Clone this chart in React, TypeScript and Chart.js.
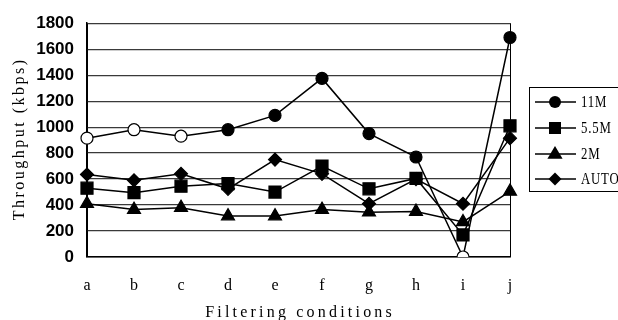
import React, { useEffect, useRef } from 'react';
import { Chart, registerables } from 'chart.js';

Chart.register(...registerables);

const categories = ['a', 'b', 'c', 'd', 'e', 'f', 'g', 'h', 'i', 'j'];
const series11M = [915, 980, 930, 980, 1090, 1375, 950, 770, 0, 1690];
const hollow11M = [true, true, true, false, false, false, false, false, true, false];
const series55M = [530, 495, 545, 565, 500, 700, 525, 605, 170, 1010];
const series2M = [410, 365, 380, 315, 315, 365, 345, 350, 270, 505];
const seriesAUTO = [635, 590, 640, 525, 750, 640, 410, 600, 410, 915];
const seriesNames = ['11M', '5.5M', '2M', 'AUTO'];
const yTickValues = [0, 200, 400, 600, 800, 1000, 1200, 1400, 1600, 1800];
const xTitle = 'Filtering conditions';
const yTitle = 'Throughput (kbps)';

const SERIF = '"Liberation Serif", "DejaVu Serif", serif';
const SANS = '"Liberation Sans", "DejaVu Sans", sans-serif';

function drawMarker(ctx: CanvasRenderingContext2D, style: string, x: number, y: number, r: number) {
  ctx.beginPath();
  if (style === 'circle') {
    ctx.arc(x, y, r, 0, Math.PI * 2);
  } else if (style === 'rect') {
    const s = Math.SQRT1_2 * r;
    ctx.rect(x - s, y - s, 2 * s, 2 * s);
  } else if (style === 'triangle') {
    ctx.moveTo(x, y - r);
    ctx.lineTo(x + r * 0.95, y + r * 0.6);
    ctx.lineTo(x - r * 0.95, y + r * 0.6);
    ctx.closePath();
  } else if (style === 'rectRot') {
    ctx.moveTo(x, y - r);
    ctx.lineTo(x + r, y);
    ctx.lineTo(x, y + r);
    ctx.lineTo(x - r, y);
    ctx.closePath();
  }
  ctx.fillStyle = '#000';
  ctx.fill();
}

const decorPlugin = {
  id: 'decor',
  afterDraw(chart: any) {
    const ctx: any = chart.ctx;
    const area = chart.chartArea;
    ctx.save();
    ctx.fillStyle = '#000';
    ctx.font = `16px ${SERIF}`;
    ctx.textAlign = 'center';
    ctx.textBaseline = 'middle';
    ctx.letterSpacing = '3.2px';
    ctx.fillText(xTitle, (area.left + area.right) / 2 + 1.6, 313);
    ctx.save();
    ctx.letterSpacing = '2.5px';
    ctx.translate(20, (area.top + area.bottom) / 2);
    ctx.rotate(-Math.PI / 2);
    ctx.fillText(yTitle, 1.25, 0);
    ctx.restore();
    ctx.letterSpacing = '0px';

    // legend
    ctx.strokeStyle = '#000';
    ctx.lineWidth = 1;
    ctx.strokeRect(529.5, 87.5, 100, 104);
    const styles = ['circle', 'rect', 'triangle', 'rectRot'];
    const radii = [6, 8.5, 8, 6.5];
    const ys = [102, 128, 154, 179];
    seriesNames.forEach((name, i) => {
      const y = ys[i];
      ctx.beginPath();
      ctx.moveTo(535, y);
      ctx.lineTo(576, y);
      ctx.lineWidth = 1.5;
      ctx.strokeStyle = '#000';
      ctx.stroke();
      drawMarker(ctx, styles[i], 555, y, radii[i]);
      ctx.save();
      ctx.fillStyle = '#000';
      ctx.font = `16px ${SERIF}`;
      ctx.textAlign = 'left';
      ctx.textBaseline = 'middle';
      ctx.translate(581, y + 1);
      ctx.scale(0.8, 1);
      ctx.letterSpacing = '1px';
      ctx.fillText(name, 0, 0);
      ctx.restore();
    });
    ctx.restore();
  },
};

export default function App() {
  const canvasRef = useRef<HTMLCanvasElement | null>(null);

  useEffect(() => {
    if (!canvasRef.current) return;
    const common = {
      borderColor: '#000',
      borderWidth: 1.5,
      pointBorderColor: '#000',
      pointBorderWidth: 1.2,
      pointBackgroundColor: '#000',
      tension: 0,
    };
    const chart = new Chart(canvasRef.current, {
      type: 'line',
      data: {
        labels: categories,
        datasets: [
          {
            ...common,
            label: seriesNames[0],
            data: series11M,
            pointStyle: 'circle',
            pointRadius: 6,
            pointBackgroundColor: hollow11M.map((h) => (h ? '#fff' : '#000')),
            order: 0,
          },
          {
            ...common,
            label: seriesNames[1],
            data: series55M,
            pointStyle: 'rect',
            pointRadius: 8.5,
            order: 1,
          },
          {
            ...common,
            label: seriesNames[2],
            data: series2M,
            pointStyle: 'triangle',
            pointRadius: 7.5,
            order: 2,
          },
          {
            ...common,
            label: seriesNames[3],
            data: seriesAUTO,
            pointStyle: 'rectRot',
            pointRadius: 6.5,
            order: 3,
          },
        ],
      },
      options: {
        animation: false,
        responsive: false,
        maintainAspectRatio: false,
        layout: { padding: { left: 0, right: 108, top: 20, bottom: 0 } },
        plugins: {
          legend: { display: false },
          tooltip: { enabled: false },
          title: { display: false },
        },
        scales: {
          x: {
            offset: false,
            grid: {
              display: true,
              drawTicks: false,
              color: (c: any) => (c.index === 0 || c.index === categories.length - 1 ? '#000' : 'rgba(0,0,0,0)'),
              lineWidth: 1,
            },
            border: { display: true, color: '#000', width: 1.5 },
            ticks: {
              color: '#000',
              font: { family: SERIF, size: 16 },
              padding: 19,
              maxRotation: 0,
              autoSkip: false,
            },
            afterFit: (s: any) => {
              s.height = 63;
            },
          },
          y: {
            min: 0,
            max: 1800,
            afterBuildTicks: (s: any) => {
              s.ticks = yTickValues.map((v) => ({ value: v }));
            },
            grid: {
              display: true,
              drawTicks: false,
              color: '#3a3a3a',
              lineWidth: 1.2,
            },
            border: { display: true, color: '#000', width: 1.5 },
            ticks: {
              color: '#000',
              font: { family: SANS, size: 17, weight: 'bold' },
              padding: 13,
              callback: (v: any) => String(v),
            },
            afterFit: (s: any) => {
              s.width = 87;
            },
          },
        },
      },
      plugins: [decorPlugin],
    } as any);
    return () => chart.destroy();
  }, []);

  return (
    <div style={{ position: 'fixed', left: 0, top: 0, width: 618, height: 320, background: '#fff' }}>
      <canvas ref={canvasRef} width={618} height={320} style={{ display: 'block', width: 618, height: 320 }} />
    </div>
  );
}
